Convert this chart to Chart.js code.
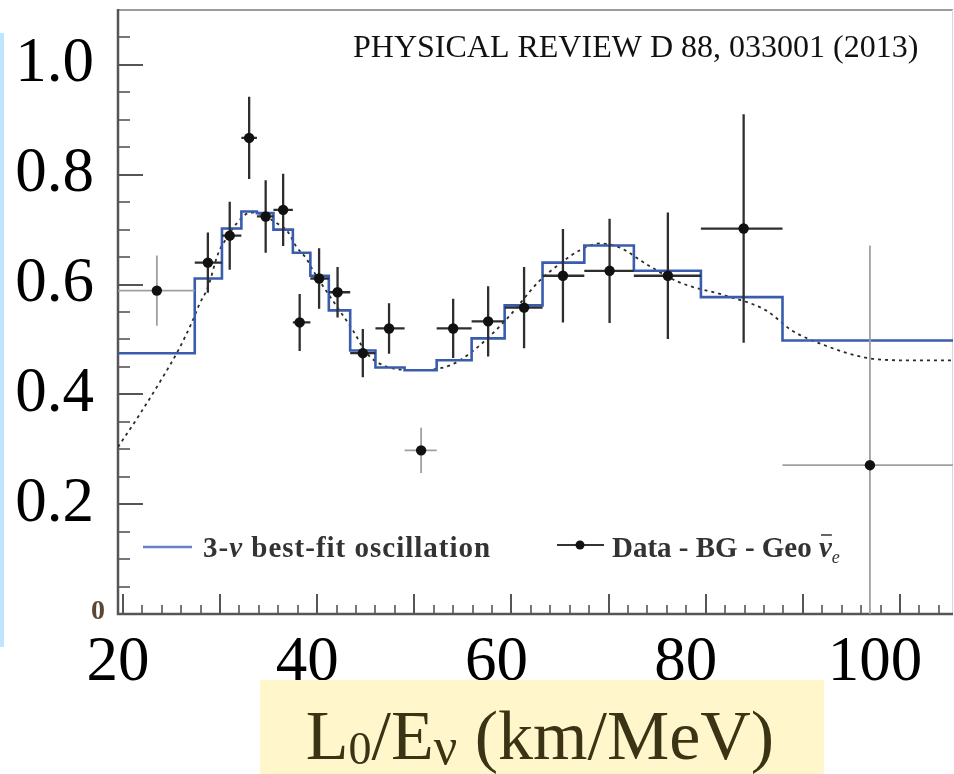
<!DOCTYPE html>
<html>
<head>
<meta charset="utf-8">
<script src="https://cdn.jsdelivr.net/npm/chart.js@4/dist/chart.umd.min.js"></script>
<style>
  html, body { margin: 0; padding: 0; background: #fff; }
  #contenedor { width: 954px; height: 774px; }
</style>
</head>
<body>
<div id="contenedor"><canvas id="graficoOscilacion" width="954" height="774"></canvas></div>
<script>
// bordes de los bins en L0/E (km/MeV) y el ajuste 3-nu en cada bin
const binEdges = [19.5, 27.4, 30.2, 32.2, 33.8, 35.5, 37.5, 39.3, 41.2, 43.4, 46.0,
                  49.0, 52.3, 55.9, 59.3, 63.2, 67.5, 72.6, 79.5, 87.9, 106.0];
const bestFit = [0.475, 0.611, 0.702, 0.733, 0.730, 0.700, 0.658, 0.616, 0.553, 0.480,
                 0.449, 0.444, 0.462, 0.502, 0.562, 0.640, 0.671, 0.625, 0.577, 0.498];

// Data - BG - Geo
const dataX = [23.5, 28.75, 31.0, 33.0, 34.7, 36.5, 38.2, 40.2, 42.1, 44.7,
               47.4, 50.7, 54.0, 57.6, 61.3, 65.3, 70.1, 76.1, 83.9, 96.9];
const dataY = [0.589, 0.640, 0.689, 0.867, 0.724, 0.736, 0.531, 0.611, 0.586, 0.475,
               0.520, 0.298, 0.520, 0.533, 0.558, 0.616, 0.625, 0.616, 0.702, 0.271];
const dataErr = [0.064, 0.055, 0.062, 0.075, 0.066, 0.066, 0.052, 0.055, 0.046, 0.044,
                 0.046, 0.041, 0.054, 0.064, 0.074, 0.085, 0.095, 0.115, 0.208, 0.400];

// curva punteada (oscilacion sin promediar por bin)
const curveX = [19.5, 21.75, 24.1, 25.7, 27.1, 27.9, 28.75, 29.8, 30.7, 31.7, 33.1, 34.1,
                35.9, 36.9, 37.9, 38.9, 39.6, 41.6, 43.7, 45.1, 46.8, 50.3, 53.7, 56.1,
                59.4, 62.9, 65.0, 67.0, 69.1, 71.2, 73.8, 77.3, 82.0, 86.2, 88.9, 92.3,
                96.4, 100.6, 105.5];
const curveY = [0.304, 0.364, 0.431, 0.480, 0.531, 0.565, 0.595, 0.656, 0.685, 0.711, 0.731, 0.729,
                0.711, 0.698, 0.668, 0.647, 0.625, 0.571, 0.516, 0.475, 0.453, 0.444, 0.453, 0.480,
                0.535, 0.607, 0.638, 0.662, 0.675, 0.667, 0.638, 0.604, 0.580, 0.553, 0.516, 0.489,
                0.467, 0.462, 0.462];

const xTickLabels = [20, 40, 60, 80, 100];
const yTickLabels = [0.2, 0.4, 0.6, 0.8, 1.0];

const faintPoints = [0, 11, 19];
const azul = '#3a5cad';
const serif = 'Liberation Serif, "Times New Roman", serif';

// escribe trozos de texto seguidos con distinta fuente
function escribir(ctx, trozos, x, y) {
  trozos.forEach(t => {
    ctx.font = t.font;
    ctx.fillText(t.text, x, y + (t.dy || 0));
    const w = ctx.measureText(t.text).width;
    if (t.bar) {
      ctx.beginPath();
      ctx.lineWidth = 1.5;
      ctx.moveTo(x + 2, y - t.bar);
      ctx.lineTo(x + w, y - t.bar);
      ctx.stroke();
    }
    x += w;
  });
  return x;
}
function ancho(ctx, trozos) {
  return trozos.reduce((s, t) => { ctx.font = t.font; return s + ctx.measureText(t.text).width; }, 0);
}

const marco = {
  id: 'marco',
  beforeDraw(chart) {
    const { ctx } = chart;
    ctx.save();
    ctx.fillStyle = '#bfe4ff';
    ctx.fillRect(0, 33, 4, 614);
    ctx.restore();
  },
  beforeDatasetsDraw(chart) {
    const { ctx, chartArea: a, scales: { x, y } } = chart;
    ctx.save();
    ctx.strokeStyle = '#9c9c9c';
    ctx.lineWidth = 2;
    ctx.beginPath();
    ctx.moveTo(a.left, a.top); ctx.lineTo(a.right, a.top);
    ctx.stroke();
    ctx.strokeStyle = '#d8d8d8';
    ctx.lineWidth = 1;
    ctx.beginPath();
    ctx.moveTo(a.right - 0.5, a.top); ctx.lineTo(a.right - 0.5, a.bottom);
    ctx.stroke();

    // marcas hacia dentro
    ctx.lineWidth = 2;
    for (let k = 1; k <= 21; k++) {
      const py = Math.round(y.getPixelForValue(k * 0.05));
      const mayor = k % 4 === 0;
      ctx.strokeStyle = mayor ? '#555' : '#777';
      ctx.beginPath();
      ctx.moveTo(a.left, py); ctx.lineTo(a.left + (mayor ? 25 : 12), py);
      ctx.stroke();
    }
    for (let v = 20; v <= 104; v += 2) {
      const px = Math.round(x.getPixelForValue(v));
      const mayor = v % 10 === 0;
      ctx.strokeStyle = mayor ? '#555' : '#777';
      ctx.beginPath();
      ctx.moveTo(px, a.bottom); ctx.lineTo(px, a.bottom - (mayor ? 20 : 9));
      ctx.stroke();
    }

    ctx.strokeStyle = '#555';
    ctx.lineWidth = 2.5;
    ctx.beginPath();
    ctx.moveTo(a.left, a.top - 1); ctx.lineTo(a.left, a.bottom);
    ctx.lineTo(a.right, a.bottom);
    ctx.stroke();

    // el 0 del eje y
    ctx.fillStyle = '#5a4632';
    ctx.font = 'bold 28px ' + serif;
    ctx.textAlign = 'center';
    ctx.textBaseline = 'middle';
    ctx.fillText('0', a.left - 20, y.getPixelForValue(0) - 2);
    ctx.restore();
  },
  afterDraw(chart) {
    const { ctx, chartArea: a } = chart;
    ctx.save();
    ctx.textBaseline = 'alphabetic';

    ctx.fillStyle = '#111';
    ctx.font = '32px ' + serif;
    ctx.fillText('PHYSICAL REVIEW D 88, 033001 (2013)', a.left + 235, a.top + 47);

    // leyenda
    const ly = a.bottom - 67;
    const fLeyenda = 'bold 29px ' + serif;
    ctx.strokeStyle = '#6a80c4';
    ctx.lineWidth = 2.5;
    ctx.beginPath();
    ctx.moveTo(a.left + 25, ly); ctx.lineTo(a.left + 74, ly);
    ctx.stroke();
    ctx.fillStyle = '#333';
    ctx.strokeStyle = '#333';
    ctx.letterSpacing = '1px';
    escribir(ctx, [
      { text: '3-', font: fLeyenda },
      { text: 'ν', font: 'italic ' + fLeyenda },
      { text: ' best-fit oscillation', font: fLeyenda }
    ], a.left + 85, ly + 10);
    ctx.letterSpacing = '0px';

    ctx.strokeStyle = '#333';
    ctx.lineWidth = 2;
    ctx.beginPath();
    ctx.moveTo(a.left + 439, ly - 2); ctx.lineTo(a.left + 486, ly - 2);
    ctx.stroke();
    ctx.fillStyle = '#111';
    ctx.beginPath();
    ctx.arc(a.left + 462, ly - 2, 4.5, 0, Math.PI * 2);
    ctx.fill();
    ctx.fillStyle = '#333';
    ctx.strokeStyle = '#333';
    escribir(ctx, [
      { text: 'Data - BG - Geo ', font: fLeyenda },
      { text: 'ν', font: 'italic ' + fLeyenda, bar: 22 },
      { text: 'e', font: 'italic 18px ' + serif, dy: 6 }
    ], a.left + 494, ly + 10);

    // titulo del eje x sobre fondo amarillo
    ctx.fillStyle = '#fff6cc';
    ctx.fillRect(260, 680, 564, 94);
    const titulo = [
      { text: 'L', font: '70px ' + serif },
      { text: '0', font: '46px ' + serif, dy: 5 },
      { text: '/E', font: '70px ' + serif },
      { text: 'ν', font: '52px ' + serif, dy: 5 },
      { text: ' (km/MeV)', font: '70px ' + serif }
    ];
    ctx.fillStyle = '#3b3414';
    escribir(ctx, titulo, 540 - ancho(ctx, titulo) / 2, 759);
    ctx.restore();
  }
};

const barrasError = {
  id: 'barrasError',
  beforeDatasetDraw(chart, args) {
    if (args.index !== 2) return;
    const { ctx, chartArea: a, scales: { x, y } } = chart;
    ctx.save();
    ctx.beginPath();
    ctx.rect(a.left, a.top, a.right - a.left, a.bottom - a.top);
    ctx.clip();
    dataX.forEach((v, i) => {
      const px = x.getPixelForValue(v);
      const py = y.getPixelForValue(dataY[i]);
      const tenue = faintPoints.includes(i);
      ctx.strokeStyle = tenue ? '#a0a0a0' : '#2e2e2e';
      ctx.lineWidth = tenue ? 1.8 : 2.3;
      ctx.beginPath();
      ctx.moveTo(px, y.getPixelForValue(dataY[i] - dataErr[i]));
      ctx.lineTo(px, y.getPixelForValue(dataY[i] + dataErr[i]));
      ctx.moveTo(x.getPixelForValue(binEdges[i]), py);
      ctx.lineTo(x.getPixelForValue(binEdges[i + 1]), py);
      ctx.stroke();
    });
    ctx.restore();
  }
};

const ctxGrafico = document.getElementById('graficoOscilacion').getContext('2d');
const grafico = new Chart(ctxGrafico, {
  type: 'scatter',
  data: {
    datasets: [{
      label: '3-ν best-fit oscillation',
      type: 'line',
      data: binEdges.map((e, i) => ({ x: e, y: bestFit[Math.min(i, bestFit.length - 1)] })),
      stepped: 'before',
      borderColor: azul,
      borderWidth: 2.6,
      pointRadius: 0,
      fill: false,
      order: 2
    }, {
      label: 'oscillation',
      type: 'line',
      data: curveX.map((v, i) => ({ x: v, y: curveY[i] })),
      borderColor: '#2a2a2a',
      borderWidth: 1.8,
      borderDash: [3, 4],
      pointRadius: 0,
      cubicInterpolationMode: 'monotone',
      fill: false,
      order: 3
    }, {
      label: 'Data - BG - Geo ν̄e',
      data: dataX.map((v, i) => ({ x: v, y: dataY[i] })),
      pointRadius: 5.2,
      pointBackgroundColor: '#111',
      pointBorderWidth: 0,
      order: 1
    }]
  },
  options: {
    responsive: false,
    animation: false,
    layout: { autoPadding: false, padding: { left: 0, right: 1, top: 10, bottom: 0 } },
    plugins: { legend: { display: false }, tooltip: { enabled: false } },
    scales: {
      x: {
        type: 'linear', min: 19.5, max: 105.45, display: false
      },
      xt: {
        type: 'linear', position: 'bottom', min: 20, max: 108.25,
        grid: { display: false, drawTicks: false },
        border: { display: false },
        afterBuildTicks: s => { s.ticks = xTickLabels.map(v => ({ value: v })); },
        afterFit: s => { s.height = 160; s.paddingLeft = 0; s.paddingRight = 0; },
        ticks: {
          autoSkip: false, maxRotation: 0, padding: 12, color: '#000',
          font: { family: serif, size: 63 },
          callback: v => String(v)
        }
      },
      y: {
        type: 'linear', min: 0, max: 1.1,
        grid: { display: false, drawTicks: false },
        border: { display: false },
        afterBuildTicks: s => { s.ticks = yTickLabels.map(v => ({ value: v })); },
        afterFit: s => { s.width = 118; s.paddingTop = 0; s.paddingBottom = 0; },
        ticks: {
          autoSkip: false, padding: 24, color: '#000',
          font: { family: serif, size: 63 },
          callback: v => v.toFixed(1)
        }
      }
    }
  },
  plugins: [marco, barrasError]
});
</script>
</body>
</html>
